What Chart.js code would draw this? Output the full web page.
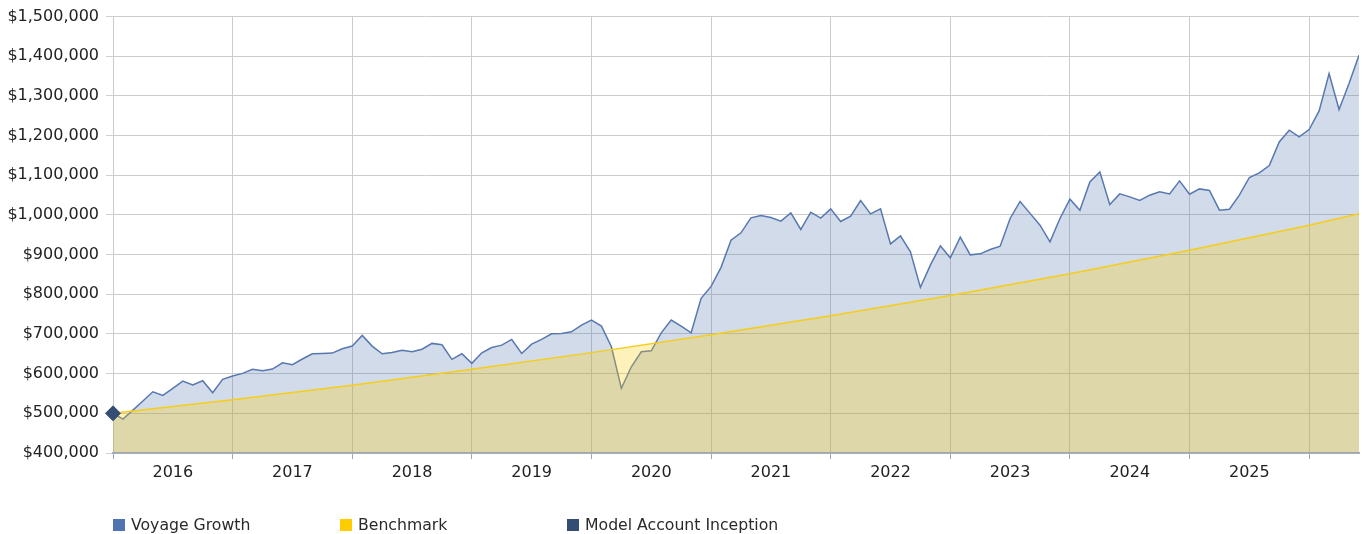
<!DOCTYPE html>
<html>
<head>
<meta charset="utf-8">
<script src="https://cdn.jsdelivr.net/npm/chart.js@4"></script>
<style>
  html, body { margin: 0; padding: 0; background: #fff; overflow: hidden; }
  #wrap { position: relative; width: 1364px; height: 534px; }
  canvas { display: block; }
  #legend { position: absolute; top: 515px; left: 0; width: 1364px; height: 20px;
            font-family: "DejaVu Sans", Verdana, sans-serif; font-size: 15.7px; color: #2a2a2a; }
  .item { position: absolute; top: 0; white-space: nowrap; line-height: 20px; }
  .box { display: inline-block; width: 12px; height: 12px; margin-right: 6px; vertical-align: -1px; }
</style>
</head>
<body>
<div id="wrap">
  <canvas id="c" width="1364" height="534"></canvas>
  <div id="legend"></div>
</div>
<script>
// ---- data ----
const yearLabels = ['2016','2017','2018','2019','2020','2021','2022','2023','2024','2025'];

// Voyage Growth, monthly values (month index 0..125)
const growthValues = [
  500000, 485600, 508000, 531000, 554400, 545300, 563000, 581400, 571300, 582200, 551900, 585600,
  594000, 600700, 610800, 607400, 611600, 627500, 622500, 637000, 650100, 651000, 651900, 662800,
  669500, 696400, 669500, 650000, 653600, 658700, 655200, 661500, 676300, 672800, 636000, 650100,
  625900, 652600, 666000, 671900, 686200, 650900, 674400, 686200, 700500, 701400, 705500, 722400,
  735000, 719900, 667800, 563000, 617400, 655200, 657700, 703000, 735000, 719900, 703000, 789700,
  820000, 868000, 936500, 955000, 992700, 998700, 993700, 984400, 1005000, 963500, 1007000, 992000,
  1015400, 983600, 997000, 1036500, 1002800, 1015400, 927200, 947400, 907000, 817400, 873600, 922200,
  892000, 944100, 899500, 902000, 913000, 921400, 991200, 1034000, 1004000, 974300, 932200, 991200,
  1039800, 1012000, 1083400, 1108600, 1026400, 1053100, 1045600, 1036500, 1049900, 1058200, 1053100, 1085900,
  1052400, 1065700, 1061700, 1012000, 1014600, 1049900, 1094500, 1106100, 1124700, 1184100, 1213600, 1196700,
  1215400, 1262200, 1356400, 1265700, 1331200, 1402500
];

// Benchmark, read at year boundaries
const benchMonths = [0, 12, 24, 36, 48, 60, 72, 84, 96, 108, 120, 125];
const benchValues = [500000, 534000, 571000, 611000, 653000, 698000, 746000, 797000, 852000, 911000, 974000, 1003000];

// Model account inception
const inceptionMonth = [0];
const inceptionValue = [500000];

const seriesNames = ['Voyage Growth', 'Benchmark', 'Model Account Inception'];
const seriesColors = ['#4f74b0', '#ffcc00', '#344d74'];

// ---- chart ----
const FONT = '"DejaVu Sans", Verdana, sans-serif';
const lastMonth = growthValues.length - 1;

new Chart(document.getElementById('c'), {
  type: 'line',
  data: {
    datasets: [
      {
        label: seriesNames[0],
        data: growthValues.map((v, i) => ({ x: i, y: v })),
        borderColor: '#5878b0',
        borderWidth: 1.5,
        backgroundColor: 'rgba(74,111,168,0.25)',
        fill: 'start',
        pointRadius: 0,
        tension: 0,
        order: 2
      },
      {
        label: seriesNames[1],
        data: benchMonths.map((m, i) => ({ x: m, y: benchValues[i] })),
        borderColor: '#f5cd1a',
        borderWidth: 1.5,
        backgroundColor: 'rgba(255,205,0,0.27)',
        fill: 'start',
        pointRadius: 0,
        tension: 0,
        order: 1
      },
      {
        label: seriesNames[2],
        data: inceptionMonth.map((m, i) => ({ x: m, y: inceptionValue[i] })),
        showLine: false,
        pointStyle: 'rectRot',
        pointRadius: 7.5,
        pointBackgroundColor: seriesColors[2],
        pointBorderColor: seriesColors[2],
        pointBorderWidth: 1,
        clip: false,
        order: 0
      }
    ]
  },
  options: {
    responsive: false,
    animation: false,
    events: [],
    layout: { autoPadding: false, padding: { left: 0, right: 5, top: 16, bottom: 41 } },
    plugins: { legend: { display: false }, tooltip: { enabled: false } },
    scales: {
      x: {
        type: 'linear',
        min: 0,
        max: lastMonth,
        afterBuildTicks: (scale) => {
          const t = [];
          for (let v = 0; v <= 120; v += 6) t.push({ value: v });
          scale.ticks = t;
        },
        afterFit: (scale) => { scale.height = 40; scale.paddingLeft = 0; scale.paddingRight = 0; },
        ticks: {
          autoSkip: false,
          maxRotation: 0,
          padding: 4,
          color: '#222',
          font: { family: FONT, size: 16 },
          callback: (v) => (v % 12 === 6 ? yearLabels[(v - 6) / 12] : '')
        },
        grid: {
          color: (ctx) => (ctx.tick && ctx.tick.value % 12 === 0 ? '#cccccc' : 'rgba(0,0,0,0)'),
          borderDash: [1, 1],
          tickColor: (ctx) => (ctx.tick && ctx.tick.value % 12 === 0 ? '#94a7c9' : 'rgba(0,0,0,0)'),
          tickBorderDash: [],
          tickLength: 6,
          lineWidth: 1
        },
        border: { display: true, color: '#9fb0cf', width: 2 }
      },
      y: {
        min: 400000,
        max: 1500000,
        afterFit: (scale) => { scale.width = 113; },
        ticks: {
          stepSize: 100000,
          padding: 7,
          color: '#222',
          font: { family: FONT, size: 16 },
          callback: (v) => '$' + Number(v).toLocaleString('en-US')
        },
        grid: {
          color: '#cccccc',
          borderDash: [1, 1],
          tickColor: '#cfcfcf',
          tickBorderDash: [],
          tickLength: 7,
          lineWidth: 1
        },
        border: { display: false }
      }
    }
  }
});

// ---- HTML legend ----
const legendLeft = [113, 340, 567];
const lg = document.getElementById('legend');
seriesNames.forEach((name, i) => {
  const d = document.createElement('div');
  d.className = 'item';
  d.style.left = legendLeft[i] + 'px';
  const b = document.createElement('span');
  b.className = 'box';
  b.style.background = seriesColors[i];
  d.appendChild(b);
  d.appendChild(document.createTextNode(name));
  lg.appendChild(d);
});
</script>
</body>
</html>
